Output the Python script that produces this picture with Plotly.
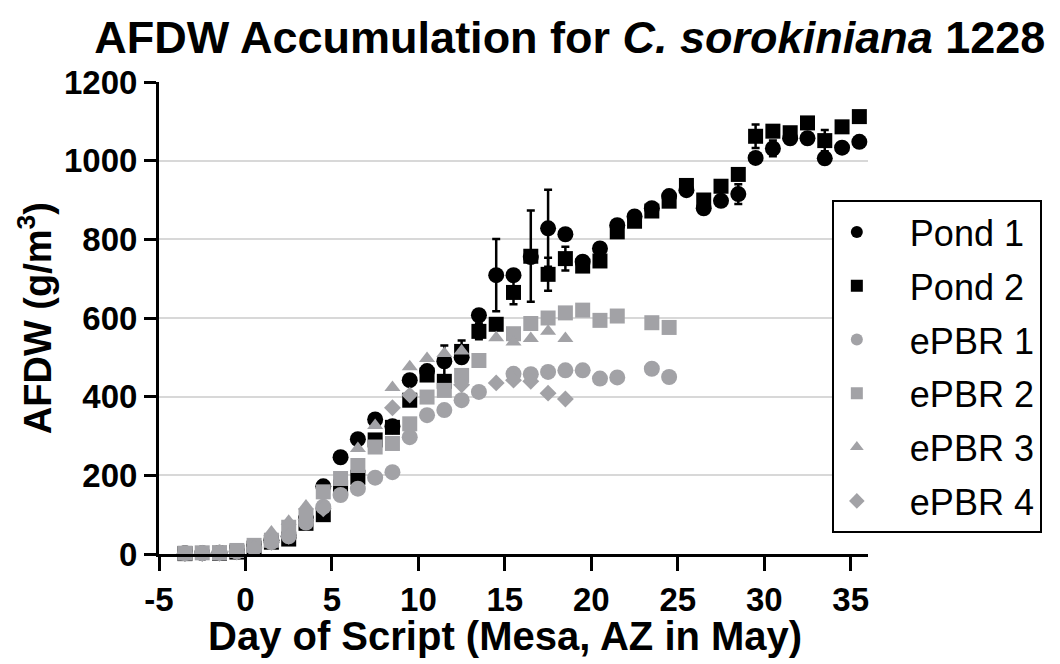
import plotly.graph_objects as go

# ---------------- data ----------------
days_pond = [-3.5, -2.5, -1.5, -0.5, 0.5, 1.5, 2.5, 3.5, 4.5, 5.5, 6.5, 7.5, 8.5, 9.5,
             10.5, 11.5, 12.5, 13.5, 14.5, 15.5, 16.5, 17.5, 18.5, 19.5, 20.5, 21.5,
             22.5, 23.5, 24.5, 25.5, 26.5, 27.5, 28.5, 29.5, 30.5, 31.5, 32.5, 33.5,
             34.5, 35.5]
pond1 = [2, 2, 3, 6, 18, 35, 45, 90, 172, 246, 292, 342, 325, 442,
         465, 490, 500, 607, 709, 709, 755, 828, 813, 743, 777, 836,
         858, 879, 910, 925, 879, 898, 915, 1007, 1031, 1057, 1057, 1006,
         1033, 1048]
pond1_err = [0, 0, 0, 0, 0, 0, 0, 0, 0, 0, 0, 0, 0, 0,
             0, 40, 0, 0, 92, 0, 0, 98, 0, 0, 0, 0,
             0, 0, 0, 0, 0, 0, 25, 0, 20, 0, 0, 0,
             0, 0]
pond2 = [1, -3, 2, 5, 15, 30, 38, 78, 100, 170, 195, 290, 322, 391,
         455, 439, 515, 566, 584, 665, 757, 711, 751, 732, 745, 819,
         846, 872, 897, 937, 900, 935, 965, 1062, 1075, 1071, 1096, 1051,
         1086, 1112]
pond2_err = [0, 0, 0, 0, 0, 0, 0, 0, 0, 0, 0, 0, 0, 0,
             0, 0, 28, 20, 0, 30, 116, 42, 30, 0, 0, 0,
             0, 0, 0, 0, 0, 0, 0, 30, 0, 0, 0, 27,
             0, 0]

days_epbr = [-3.5, -2.5, -1.5, -0.5, 0.5, 1.5, 2.5, 3.5, 4.5, 5.5, 6.5, 7.5, 8.5, 9.5,
             10.5, 11.5, 12.5, 13.5, 14.5, 15.5, 16.5, 17.5, 18.5, 19.5, 20.5, 21.5,
             22.5, 23.5, 24.5]
epbr1 = [2, 2, 3, 6, 15, 30, 45, 80, 120, 150, 166, 194, 208, 297,
         353, 366, 391, 412, None, 458, 457, 463, 467, 467, 446, 449,
         None, 471, 450]
epbr2 = [2, 3, 3, 9, 22, 35, 68, 98, 158, 192, 225, 272, 281, 331,
         399, 416, 454, 492, None, 560, 586, 600, 613, 620, 594, 605,
         None, 588, 576]
epbr3 = [2, 3, 3, 7, 20, 56, 83, 122, None, None, 268, 327, 423, 476,
         497, 510, 516, None, 550, 539, 548, 566, 548]
epbr4 = [1, 2, 2, 5, 15, 30, 45, 88, 115, None, None, None, 372, 404,
         None, None, 430, None, 435, 442, 439, 409, 394]

x_ticks = [-5, 0, 5, 10, 15, 20, 25, 30, 35]
y_ticks = [0, 200, 400, 600, 800, 1000, 1200]

# ---------------- figure ----------------
BLACK = "#000000"
GRAY = "#a2a2a6"
FONT = "Arial, Liberation Sans, Helvetica, sans-serif"
PAD = "\u00a0\u00a0\u00a0"

series = [
    ("Pond 1", days_pond, pond1, pond1_err, "circle", BLACK, 16),
    ("Pond 2", days_pond, pond2, pond2_err, "square", BLACK, 15),
    ("ePBR 1", days_epbr, epbr1, None, "circle", GRAY, 16),
    ("ePBR 2", days_epbr, epbr2, None, "square", GRAY, 15),
    ("ePBR 3", days_epbr[:len(epbr3)], epbr3, None, "triangle-up", GRAY, 14),
    ("ePBR 4", days_epbr[:len(epbr4)], epbr4, None, "diamond", GRAY, 13),
]

fig = go.Figure()
for name, xs, ys, err, sym, col, sz in series:
    kw = {}
    if err is not None:
        kw["error_y"] = dict(type="data", array=err, symmetric=True,
                             color=BLACK, thickness=2.5, width=4)
    fig.add_trace(go.Scatter(
        x=xs, y=ys, mode="markers", name=PAD + name, legendgroup=name,
        marker=dict(symbol=sym, color=col, size=sz, line=dict(width=0)),
        cliponaxis=False, **kw))

fig.update_layout(
    width=1060, height=664,
    margin=dict(l=151, r=200, t=74, b=118),
    plot_bgcolor="white", paper_bgcolor="white",
    font=dict(family=FONT, color="black"),
    title=dict(text="<b>AFDW Accumulation for <i>C. sorokiniana</i> 1228</b>",
               font=dict(size=45, family=FONT, color="black"),
               x=0.53, xanchor="center", xref="container",
               y=0.956, yanchor="middle", yref="container"),
    xaxis=dict(range=[-5, 36], tickvals=x_ticks, ticktext=[str(v) for v in x_ticks],
               showgrid=False, zeroline=False, showline=True, linecolor="black",
               linewidth=3, ticks="outside", ticklen=14, tickwidth=3, tickcolor="black",
               tickfont=dict(size=33, family=FONT, weight="bold")),
    yaxis=dict(range=[0, 1200], tickvals=y_ticks, ticktext=[str(v) for v in y_ticks],
               showgrid=True, gridcolor="#d8d8d8", gridwidth=2, zeroline=False,
               showline=True, linecolor="black", linewidth=3,
               ticks="outside", ticklen=12, tickwidth=3, tickcolor="black",
               tickfont=dict(size=33, family=FONT, weight="bold")),
    legend=dict(x=0.949, xanchor="left", y=0.75, yanchor="top",
                bordercolor="black", borderwidth=2, bgcolor="white",
                font=dict(size=36, family=FONT, color="black"),
                tracegroupgap=4, itemwidth=36, itemsizing="constant"),
    annotations=[
        dict(text="<b>Day of Script (Mesa, AZ in May)</b>", xref="paper", yref="paper",
             x=(505 - 159) / 709, y=(553.6 - 636) / 471.6, xanchor="center", yanchor="middle",
             showarrow=False, font=dict(size=40, family=FONT, color="black")),
        dict(text="<b>AFDW (g/m<sup>3</sup>)</b>", xref="paper", yref="paper",
             x=(35 - 159) / 709, y=(553.6 - 318) / 471.6, xanchor="center", yanchor="middle",
             textangle=-90, showarrow=False, font=dict(size=38, family=FONT, color="black")),
    ],
)

fig.write_html("out.html")
